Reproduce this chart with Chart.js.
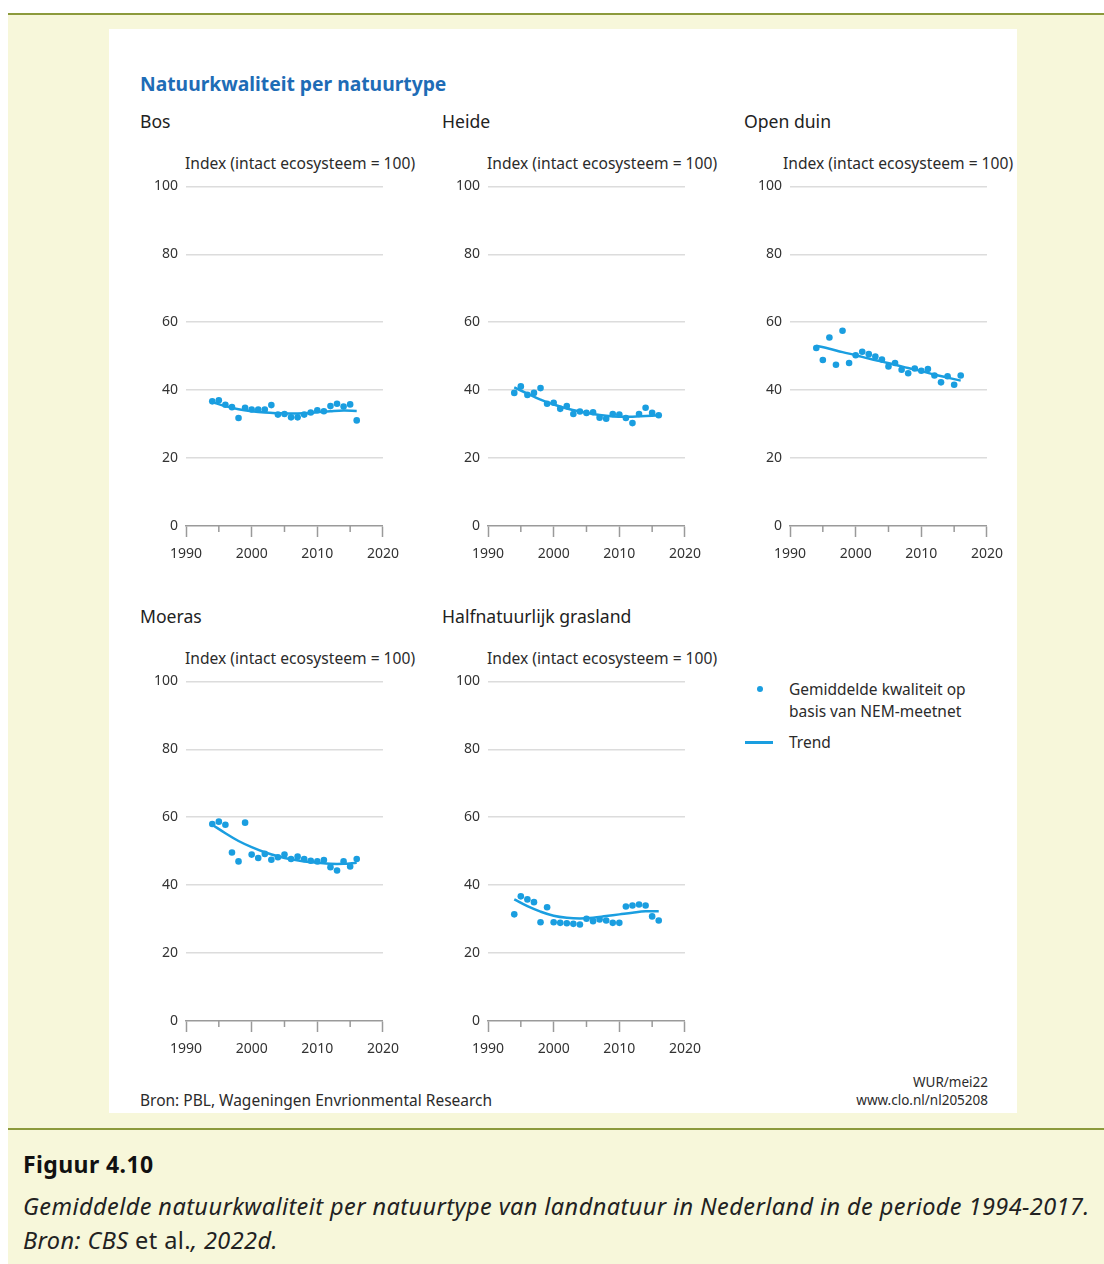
<!DOCTYPE html>
<html>
<head>
<meta charset="utf-8">
<script src="https://cdn.jsdelivr.net/npm/chart.js@4.4.0/dist/chart.umd.min.js"></script>
<style>
    body { margin: 0; background: #ffffff; font-family: "Noto Sans", sans-serif; }
    .page { position: absolute; left: 8px; top: 13px; width: 1096px; height: 1251px; background: #f7f7da; border-top: 2px solid #8c9a3c; box-sizing: border-box; }
    .sheet { position: absolute; left: 109px; top: 29px; width: 908px; height: 1084px; background: #ffffff; }
    .rule { position: absolute; left: 8px; top: 1128px; width: 1096px; border-top: 2px solid #8c9a3c; }
    .txt { position: absolute; white-space: nowrap; color: #2b2b2b; }
    .panel { position: absolute; }
</style>
</head>
<body>
<div class="page"></div>
<div class="sheet"></div>
<div class="rule"></div>

<div class="txt" style="left:140px; top:72px; font-size:19.3px; line-height:24px; font-weight:700; color:#1e6cb6;">Natuurkwaliteit per natuurtype</div>

<div id="panels"></div>

<!-- legend -->
<div style="position:absolute; left:757px; top:686px; width:6px; height:6px; border-radius:50%; background:#1a9ee0;"></div>
<div class="txt" style="left:789px; top:678px; font-size:15.5px; line-height:22px;">Gemiddelde kwaliteit op<br>basis van NEM-meetnet</div>
<div style="position:absolute; left:745px; top:741px; width:28px; height:2.5px; background:#1a9ee0;"></div>
<div class="txt" style="left:789px; top:731px; font-size:15.5px; line-height:22px;">Trend</div>

<div class="txt" style="left:140px; top:1089px; font-size:15.5px; line-height:22px;">Bron: PBL, Wageningen Envrionmental Research</div>
<div class="txt" style="right:116px; top:1073px; font-size:13.5px; line-height:18px; text-align:right;">WUR/mei22<br>www.clo.nl/nl205208</div>

<div class="txt" style="left:23px; top:1150px; font-size:23px; line-height:28px; font-weight:700; letter-spacing:0.4px; color:#111;">Figuur 4.10</div>
<div class="txt" style="left:23px; top:1192px; font-size:23.5px; line-height:28px; font-style:italic; letter-spacing:0.42px; color:#222;">Gemiddelde natuurkwaliteit per natuurtype van landnatuur in Nederland in de periode 1994-2017.</div>
<div class="txt" style="left:23px; top:1226px; font-size:23.5px; line-height:28px; letter-spacing:0.42px; color:#222;"><i>Bron: CBS</i> et al.<i>, 2022d.</i></div>

<script>
// years with a measurement
const years = [1994, 1995, 1996, 1997, 1998, 1999, 2000, 2001, 2002, 2003, 2004, 2005,
               2006, 2007, 2008, 2009, 2010, 2011, 2012, 2013, 2014, 2015, 2016];
const trendYears = [1994, 1996, 1998, 2000, 2002, 2004, 2006, 2008, 2010, 2012, 2014, 2016];
const xTicks = [1990, 1995, 2000, 2005, 2010, 2015, 2020];
const yTicks = [0, 20, 40, 60, 80, 100];

const panelNames = ['Bos', 'Heide', 'Open duin', 'Moeras', 'Halfnatuurlijk grasland'];

const bosValues   = [36.7, 37.0, 35.7, 35.0, 31.8, 34.8, 34.3, 34.3, 34.3, 35.6, 32.8, 33.0, 32.0, 32.0, 32.8, 33.4, 34.1, 33.8, 35.3, 36.0, 35.2, 35.8, 31.1];
const bosTrend    = [36.5, 35.3, 34.4, 33.8, 33.4, 33.2, 33.1, 33.2, 33.5, 33.8, 34.0, 33.9];

const heideValues = [39.2, 41.1, 38.6, 39.2, 40.6, 36.0, 36.3, 34.5, 35.3, 33.0, 33.7, 33.3, 33.5, 31.9, 31.6, 33.0, 32.8, 31.8, 30.3, 33.0, 34.8, 33.3, 32.6];
const heideTrend  = [40.8, 39.0, 37.2, 35.8, 34.6, 33.7, 33.0, 32.5, 32.2, 32.2, 32.4, 32.6];

const duinValues  = [52.4, 48.9, 55.5, 47.5, 57.5, 48.0, 50.3, 51.3, 50.6, 49.9, 49.0, 47.0, 48.0, 46.0, 45.0, 46.4, 45.7, 46.2, 44.3, 42.3, 44.1, 41.6, 44.3];
const duinTrend   = [53.1, 52.2, 51.2, 50.3, 49.3, 48.4, 47.5, 46.5, 45.6, 44.6, 43.7, 42.8];

const moerasValues = [58.0, 58.7, 57.8, 49.6, 47.0, 58.4, 49.0, 48.0, 49.2, 47.5, 48.2, 49.0, 47.7, 48.4, 47.7, 47.2, 47.0, 47.4, 45.3, 44.3, 47.0, 45.5, 47.7];
const moerasTrend  = [57.8, 55.3, 53.0, 51.2, 49.7, 48.5, 47.6, 47.0, 46.6, 46.3, 46.3, 46.6];

const grasValues  = [31.4, 36.7, 35.8, 35.0, 29.1, 33.5, 29.1, 28.9, 28.8, 28.6, 28.4, 30.1, 29.4, 29.9, 29.6, 28.9, 28.9, 33.7, 34.0, 34.3, 34.0, 30.8, 29.6];
const grasTrend   = [35.8, 33.8, 32.2, 31.0, 30.4, 30.2, 30.4, 30.9, 31.4, 31.9, 32.3, 32.3];

const allValues = [bosValues, heideValues, duinValues, moerasValues, grasValues];
const allTrends = [bosTrend, heideTrend, duinTrend, moerasTrend, grasTrend];

// plot area (left, top) of each small chart on the page
const areaPos = [[186, 185], [488, 185], [790, 185], [186, 680], [488, 680]];

const blue = '#1a9ee0';
const gridColor = '#dcdcdc';
const axisColor = '#9a9a9a';
const textColor = '#333333';

const AXIS_W = 46, PAD_TOP = 15, PAD_RIGHT = 24, XAXIS_H = 45;
const AREA_W = 198, AREA_H = 341;

// short ticks for the in-between years
const minorTicks =
{
    id: 'minorTicks',
    afterDraw(chart)
    {
        const xs = chart.scales.x;
        const ctx = chart.ctx;
        ctx.save();
        ctx.strokeStyle = axisColor;
        ctx.lineWidth = 1.5;
        xs.ticks.forEach(t => {
            if (t.value % 10 !== 0)
            {
                const px = xs.getPixelForValue(t.value);
                ctx.beginPath();
                ctx.moveTo(px, xs.top);
                ctx.lineTo(px, xs.top + 6);
                ctx.stroke();
            }
        });
        ctx.restore();
    }
};

for (var i = 0; i < panelNames.length; i++)
{
    BuildPanel(i);
}

function BuildPanel (_i)
{
    const holder = document.getElementById('panels');
    const left = areaPos[_i][0];
    const top = areaPos[_i][1];

    var title = document.createElement('div');
    title.className = 'txt';
    title.style.cssText = 'left:' + (left - 46) + 'px; top:' + (top - 76) + 'px; font-size:17.6px; line-height:24px; color:#222;';
    title.textContent = panelNames[_i];
    holder.appendChild(title);

    var unit = document.createElement('div');
    unit.className = 'txt';
    unit.style.cssText = 'left:' + (left - (_i === 2 ? 7 : 1)) + 'px; top:' + (top - 33) + 'px; font-size:15.6px; line-height:22px; color:#2b2b2b;';
    unit.textContent = 'Index (intact ecosysteem = 100)';
    holder.appendChild(unit);

    var canvas = document.createElement('canvas');
    canvas.width = AXIS_W + AREA_W + PAD_RIGHT;
    canvas.height = PAD_TOP + AREA_H + XAXIS_H;
    canvas.className = 'panel';
    canvas.style.left = (left - AXIS_W) + 'px';
    canvas.style.top = (top - PAD_TOP) + 'px';
    holder.appendChild(canvas);

    const points = years.map((y, k) => ({ x: y, y: allValues[_i][k] }));
    const trend = trendYears.map((y, k) => ({ x: y, y: allTrends[_i][k] }));

    const config =
    {
        type: 'scatter',
        data:
        {
            datasets:
            [
                {
                    label: 'Trend',
                    data: trend,
                    showLine: true,
                    borderColor: blue,
                    borderWidth: 2.5,
                    pointRadius: 0,
                    tension: 0.4,
                    fill: false
                },
                {
                    label: 'Gemiddelde kwaliteit op basis van NEM-meetnet',
                    data: points,
                    backgroundColor: blue,
                    borderWidth: 0,
                    pointRadius: 3.3
                }
            ]
        },
        options:
        {
            responsive: false,
            animation: false,
            devicePixelRatio: 1,
            layout: { padding: { top: PAD_TOP, right: PAD_RIGHT, left: 0, bottom: 0 } },
            plugins:
            {
                legend: { display: false },
                tooltip: { enabled: false }
            },
            scales:
            {
                x:
                {
                    type: 'linear',
                    min: 1990,
                    max: 2020,
                    afterBuildTicks: s => { s.ticks = xTicks.map(v => ({ value: v })); },
                    afterFit: s => { s.height = XAXIS_H; },
                    border: { display: true, color: axisColor, width: 1.5 },
                    grid:
                    {
                        drawOnChartArea: false,
                        drawTicks: true,
                        tickLength: 11,
                        tickWidth: 1.5,
                        tickColor: c => (c.tick && c.tick.value % 10 === 0) ? axisColor : 'rgba(0,0,0,0)'
                    },
                    ticks:
                    {
                        autoSkip: false,
                        maxRotation: 0,
                        padding: 9,
                        color: textColor,
                        font: { family: 'Noto Sans', size: 14 },
                        callback: v => (v % 10 === 0) ? String(v) : ''
                    }
                },
                y:
                {
                    min: 0,
                    max: 100,
                    afterBuildTicks: s => { s.ticks = yTicks.map(v => ({ value: v })); },
                    afterFit: s => { s.width = AXIS_W; },
                    border: { display: false },
                    grid:
                    {
                        drawTicks: false,
                        lineWidth: 1.5,
                        color: c => (c.tick && c.tick.value === 0) ? 'rgba(0,0,0,0)' : gridColor
                    },
                    ticks:
                    {
                        padding: 8,
                        color: textColor,
                        font: { family: 'Noto Sans', size: 14 }
                    }
                }
            }
        },
        plugins: [minorTicks]
    };

    const ctx = canvas.getContext('2d');
    new Chart(ctx, config);
}
</script>
</body>
</html>
